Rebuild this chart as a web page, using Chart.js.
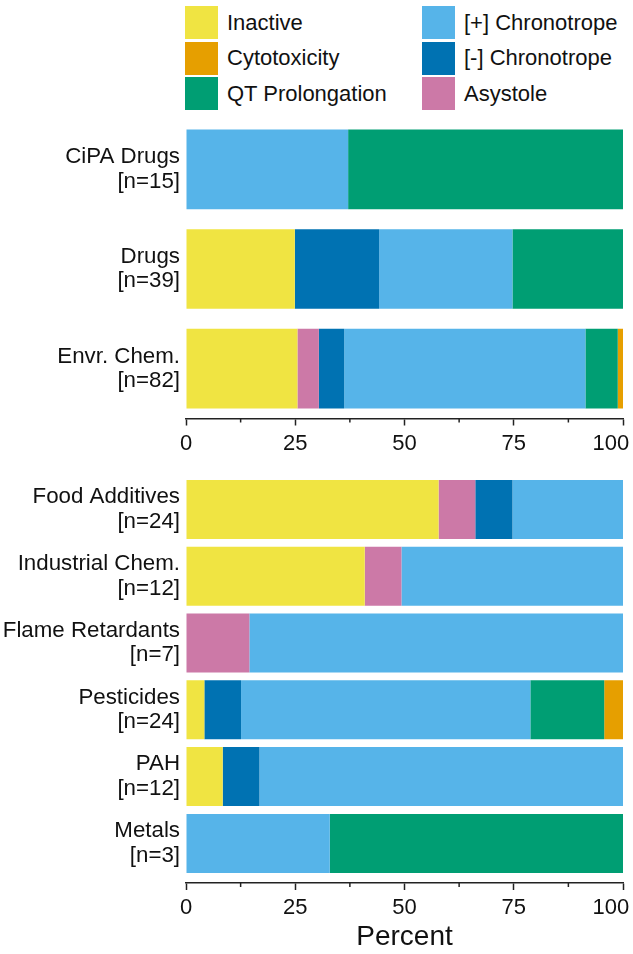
<!DOCTYPE html>
<html><head><meta charset="utf-8">
<script src="https://cdn.jsdelivr.net/npm/chart.js@4.4.1/dist/chart.umd.min.js"></script>
<style>
html,body{margin:0;padding:0;background:#fff;width:633px;height:954px;overflow:hidden;font-family:'Liberation Sans',Arial,sans-serif;}
#legend{position:absolute;left:0;top:0;width:633px;height:112px;}
.item{position:absolute;height:33px;display:flex;align-items:center;font-size:22px;color:#111;white-space:nowrap;}
.sw{width:33px;height:33px;margin-right:9px;flex:none;}
#top{position:absolute;left:0;top:100px;width:633px;height:360px;}
#bot{position:absolute;left:0;top:460px;width:633px;height:494px;}
</style></head><body>
<div id="legend"></div>
<div id="top"><canvas id="c1"></canvas></div>
<div id="bot"><canvas id="c2"></canvas></div>
<script>
// ---- data ----
const topCategories = [["CiPA Drugs","[n=15]"],["Drugs","[n=39]"],["Envr. Chem.","[n=82]"]];
const bottomCategories = [["Food Additives","[n=24]"],["Industrial Chem.","[n=12]"],["Flame Retardants","[n=7]"],["Pesticides","[n=24]"],["PAH","[n=12]"],["Metals","[n=3]"]];
const xTickValues = [0, 25, 50, 75, 100];
const xMinorTickValues = [12.5, 37.5, 62.5, 87.5];

// series, in stacking order (left to right); first 3 values = top panel, next 6 = bottom panel
const seriesNames = ["Inactive","Asystole","[-] Chronotrope","[+] Chronotrope","QT Prolongation","Cytotoxicity"];
const seriesColors = ["#F0E442","#CC79A7","#0072B2","#56B4E9","#009E73","#E69F00"];
const inactive      = [0, 24.9, 25.5,   57.8, 40.9, 0,    4.2,  8.4,  0];
const asystole      = [0, 0,    4.9,    8.4,  8.4,  14.5, 0,    0,    0];
const negChronotrope= [0, 19.3, 5.8,    8.5,  0,    0,    8.4,  8.4,  0];
const posChronotrope= [37.1, 30.5, 55.2, 25.3, 50.7, 85.5, 66.2, 83.2, 32.9];
const qtProlongation= [62.9, 25.3, 7.4,  0,    0,    0,    16.9, 0,    67.1];
const cytotoxicity  = [0, 0,    1.2,    0,    0,    0,    4.3,  0,    0];
const seriesValues = [inactive, asystole, negChronotrope, posChronotrope, qtProlongation, cytotoxicity];
const legendOrder = ["Inactive","Cytotoxicity","QT Prolongation","[+] Chronotrope","[-] Chronotrope","Asystole"];

// ---- legend ----
const legend = document.getElementById('legend');
legendOrder.forEach((name, k) => {
  const col = Math.floor(k / 3), row = k % 3;
  const it = document.createElement('div');
  it.className = 'item';
  it.style.left = (col === 0 ? 185 : 422) + 'px';
  it.style.top = (6 + row * 35.5) + 'px';
  const sw = document.createElement('div');
  sw.className = 'sw';
  sw.style.background = seriesColors[seriesNames.indexOf(name)];
  it.appendChild(sw);
  it.appendChild(document.createTextNode(name));
  legend.appendChild(it);
});

const FONT = "'Liberation Sans', Arial, sans-serif";
const AXIS = '#222';

const minorTicks = {
  id: 'minorTicks',
  afterDraw(chart) {
    const xs = chart.scales.x, ctx = chart.ctx, y0 = chart.chartArea.bottom;
    ctx.save();
    ctx.strokeStyle = AXIS; ctx.lineWidth = 1.5;
    xMinorTickValues.forEach(v => {
      const px = xs.getPixelForValue(v);
      ctx.beginPath(); ctx.moveTo(px, y0); ctx.lineTo(px, y0 + 4); ctx.stroke();
    });
    ctx.restore();
  }
};

function makeChart(canvasId, cats, offset, yMax, barPct, padTop, xHeight, withTitle) {
  const datasets = seriesNames.map((name, s) => ({
    label: name,
    data: cats.map((_, i) => ({x: seriesValues[s][offset + i], y: i})),
    backgroundColor: seriesColors[s],
    borderWidth: 0,
    barPercentage: barPct,
    categoryPercentage: 1
  }));
  return new Chart(document.getElementById(canvasId), {
    type: 'bar',
    data: {datasets},
    plugins: [minorTicks],
    options: {
      indexAxis: 'y',
      responsive: true,
      maintainAspectRatio: false,
      animation: false,
      layout: {padding: {top: padTop, right: 10, left: 0, bottom: 0}},
      plugins: {legend: {display: false}, tooltip: {enabled: false}},
      scales: {
        y: {
          type: 'linear', reverse: true, stacked: true, offset: false,
          min: -0.5, max: yMax,
          afterBuildTicks: (axis) => { axis.ticks = cats.map((_, i) => ({value: i})); },
          afterFit: (axis) => { axis.width = 186; axis.paddingTop = 0; axis.paddingBottom = 0; },
          grid: {display: false, drawTicks: false},
          border: {display: false},
          ticks: {
            autoSkip: false, padding: 6, color: '#111',
            font: {family: FONT, size: 22.3, lineHeight: 1.1},
            callback: (v) => cats[v]
          }
        },
        x: {
          type: 'linear', stacked: true, min: 0, max: 100,
          afterBuildTicks: (axis) => { axis.ticks = xTickValues.map(v => ({value: v})); },
          afterFit: (axis) => { axis.height = xHeight; axis.paddingRight = 0; axis.paddingLeft = 0; },
          grid: {drawOnChartArea: false, drawTicks: true, tickLength: 7, tickColor: AXIS, tickWidth: 1.5},
          border: {display: true, color: AXIS, width: 1.5},
          ticks: {
            autoSkip: false, maxRotation: 0, padding: 5, color: '#111',
            font: {family: FONT, size: 22},
            callback: (v) => v === 100 ? '100\u00a0\u00a0\u00a0\u00a0' : String(v)
          },
          title: withTitle ? {display: true, text: 'Percent', color: '#111',
            font: {family: FONT, size: 28}, padding: 0} : {display: false}
        }
      }
    }
  });
}

makeChart('c1', topCategories, 0, 2.5, 0.80, 19.5, 41.5, false);
makeChart('c2', bottomCategories, 3, 5.593, 0.883, 16, 71, true);
</script>
</body></html>
